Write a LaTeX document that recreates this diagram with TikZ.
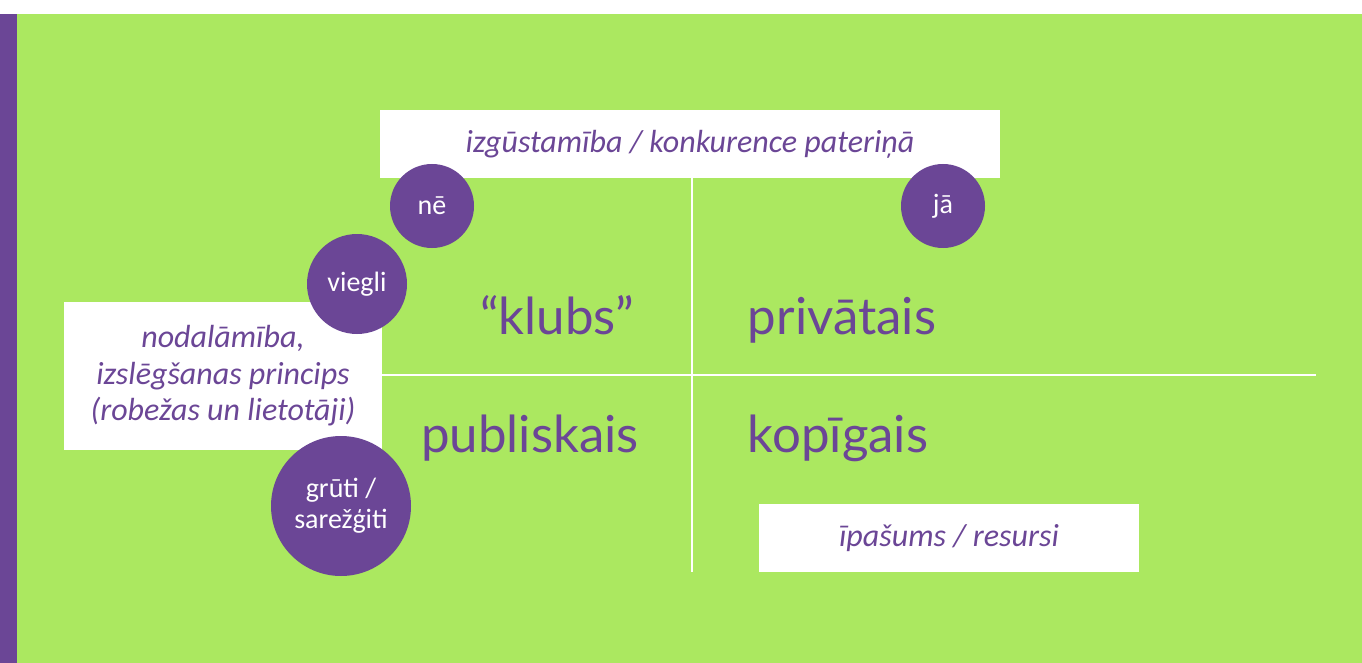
\documentclass[tikz,border=0pt]{standalone}
\usepackage{fontspec}
\setmainfont{Carlito}
\newfontfamily\bigfont{Lato}
\definecolor{bggreen}{RGB}{171,232,96}
\definecolor{vio}{RGB}{107,70,150}
\begin{document}
\begin{tikzpicture}[x=1pt,y=-1pt,
  wbox/.style={fill=white,draw=none,inner sep=0pt,text=vio,font=\itshape\fontsize{32}{36.5}\selectfont,align=center},
  dot/.style={circle,fill=vio,draw=none,inner sep=0pt,text=white,align=center,font=\fontsize{28}{31}\selectfont},
  quad/.style={text=vio,font=\bigfont\fontsize{51}{55}\selectfont,inner sep=0pt,anchor=base},
  axis/.style={white,line width=2.5pt}]
\useasboundingbox (0,0) rectangle (1362,663);
\fill[white] (0,0) rectangle (1362,663);
\fill[bggreen] (17,14) rectangle (1362,663);
\fill[vio] (0,14) rectangle (17,663);
% boxes
\node[wbox,minimum width=620pt,minimum height=68pt] (top) at (690,144) {izgūstamība / konkurence pateriņā};
\node[wbox,minimum width=318pt,minimum height=148pt] (left) at (223,376) {nodalāmība,\\izslēgšanas princips\\(robežas un lietotāji)};
\node[wbox,minimum width=380pt,minimum height=68pt] (prop) at (949,538) {īpašums / resursi};
% axes
\coordinate (vend) at (692,572);
\coordinate (hend) at (1316,375);
\draw[axis] (top.south -| vend) -- (vend);
\draw[axis] (left.east |- hend) -- (hend);
% quadrant labels
\node[quad] (klubs) at (557,334) {“klubs”};
\node[quad] (priv) at (842,334) {privātais};
\node[quad] (publ) at (530,452) {publiskais};
\node[quad] (kop) at (838,452) {kopīgais};
% circles
\node[dot,minimum size=84pt] (ne) at (432,206) {nē};
\node[dot,minimum size=84pt] (ja) at (943,206) {jā};
\node[dot,minimum size=100pt] (viegli) at (357,284) {viegli};
\node[dot,minimum size=140pt] (gruti) at (341,506) {grūti /\\sarežģiti};
\end{tikzpicture}
\end{document}
